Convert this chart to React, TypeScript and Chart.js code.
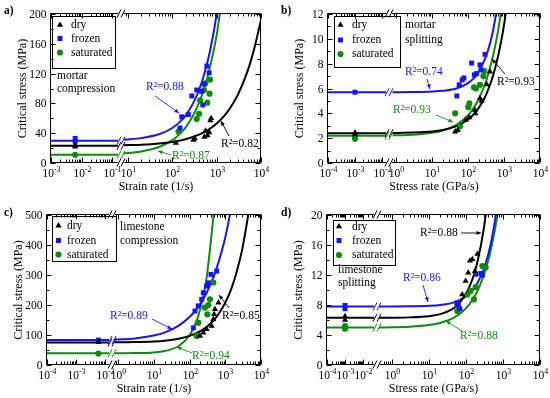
import React, { useEffect, useRef } from 'react';
import { Chart, registerables, LinearScale } from 'chart.js';

Chart.register(...registerables);

// ---------------- DATA ----------------
// Panel a) mortar compression – strain rate (1/s) vs critical stress (MPa)
const aXTicks = [-3, -2, -1, 1, 2, 3, 4];
const aYTicks = [0, 40, 80, 120, 160, 200];
const aDryX = [0.0062, 0.0062, 120, 300, 320, 530, 560, 620, 680, 720, 750];
const aDryY = [22, 24, 27, 31, 33, 35, 43, 37, 41, 57, 60];
const aFrozenX = [0.0062, 0.0062, 149, 163, 230, 275, 355, 457, 487, 520, 600, 675];
const aFrozenY = [33, 29, 47, 62, 65, 90, 98, 96, 78, 106, 130, 121];
const aSatX = [0.0062, 138, 355, 400, 424, 520, 555, 615, 690, 710];
const aSatY = [11, 42, 59, 66, 84, 98, 107, 81, 93, 112];
const aBase = [23, 30, 11]; // dry, frozen, saturated plateau
const aFitX = [8, 10, 20, 50, 100, 150, 200, 300, 400, 500, 700, 1000, 1500, 2000, 3000, 5000, 7000, 10000];
const aFitDry = [23.8, 24, 24.6, 26.2, 28.3, 30.3, 32, 35.2, 38.1, 40.9, 46, 53.1, 63.7, 73.5, 91.4, 123.6, 153, 192];
const aFitFrozen = [31.4, 31.7, 33.4, 38.5, 47, 55.5, 64, 81, 98, 115, 149, 200, 285];
const aFitSat = [12.9, 13.4, 15.5, 21.4, 30.6, 39.4, 47.8, 64.7, 80.9, 96.3, 127.6, 172, 245];

// Panel b) mortar splitting – stress rate (GPa/s) vs critical stress (MPa)
const bXTicks = [-4, -3, -2, 0, 1, 2, 3, 4];
const bYTicks = [0, 2, 4, 6, 8, 10, 12];
const bDryX = [0.001, 0.001, 44, 52, 87, 109, 156, 160, 215, 240, 330, 408];
const bDryY = [2.45, 2.3, 2.52, 2.65, 3.46, 3.67, 4.27, 4.0, 5.2, 5.0, 6.33, 7.35];
const bFrozenX = [0.001, 49, 57, 69, 77, 126, 150, 174, 215, 230, 297];
const bFrozenY = [5.7, 5.4, 6.3, 6.7, 6.85, 8.05, 7.1, 7.2, 7.9, 7.5, 8.75];
const bSatX = [0.001, 0.001, 44, 60, 102, 109, 147, 166, 215, 267, 284];
const bSatY = [2.1, 1.95, 4.0, 2.95, 4.5, 4.8, 6.1, 6.0, 6.3, 7.0, 7.4];
const bBase = [2.4, 5.7, 2.2];
const bFitX = [0.8, 1, 3, 10, 20, 50, 100, 150, 200, 300, 400, 500, 700, 1000, 1500];
const bFitDry = [2.41, 2.42, 2.45, 2.54, 2.66, 2.99, 3.5, 3.98, 4.45, 5.34, 6.22, 7.06, 8.73, 11.1, 15.0];
const bFitFrozen = [5.7, 5.7, 5.71, 5.75, 5.81, 6.02, 6.43, 6.88, 7.37, 8.42, 9.53, 10.69, 13.2];
const bFitSat = [2.23, 2.23, 2.28, 2.43, 2.62, 3.11, 3.85, 4.52, 5.17, 6.38, 7.58, 8.68, 10.8, 13.9];

// Panel c) limestone compression – strain rate (1/s)
const cXTicks = [-4, -3, -2, 0, 1, 2, 3, 4];
const cYTicks = [0, 100, 200, 300, 400, 500];
const cDryX = [0.0059, 196, 244, 302, 417, 465, 490, 516, 645];
const cDryY = [76, 97, 108, 119, 130, 152, 169, 186, 208];
const cFrozenX = [0.0059, 128, 142, 176, 219, 244, 302, 336, 398, 575];
const cFrozenY = [83, 124, 180, 197, 219, 241, 263, 274, 302, 313];
const cSatX = [0.0059, 158, 176, 270, 316, 336, 374, 465];
const cSatY = [38, 97, 141, 191, 169, 200, 219, 275];
const cBase = [75, 83.5, 39];
const cFitX = [0.8, 1, 3, 10, 20, 50, 100, 150, 200, 300, 500, 700, 1000, 1500, 2000, 3000, 5000];
const cFitDry = [75.5, 75.6, 76.4, 78.6, 81.2, 87.8, 97, 105.2, 112.8, 126.7, 151.9, 175.9, 207.5, 256.5, 302.6, 387, 539.6];
const cFitFrozen = [84.5, 85, 88.5, 98, 108, 131, 159.8, 183, 203.6, 239.7, 301.5, 355.6, 425, 528];
const cFitSat = [39.1, 39.15, 39.6, 42, 46.4, 63.3, 99, 140.8, 187, 289.7, 527];

// Panel d) limestone splitting – stress rate (GPa/s)
const dXTicks = [-4, -3, -2, 0, 1, 2, 3, 4];
const dYTicks = [0, 4, 8, 12, 16, 20];
const dDryX = [0.001, 0.001, 79, 98, 115, 128, 148, 174, 204];
const dDryY = [6.5, 6.0, 9.4, 11.2, 12.3, 13.9, 14.1, 12.5, 14.8];
const dFrozenX = [0.001, 0.001, 58, 62, 68, 182, 251, 277];
const dFrozenY = [7.95, 7.5, 8.3, 7.95, 7.5, 12.1, 12.2, 12.0];
const dSatX = [0.001, 0.001, 58, 58, 109, 134, 164, 182, 277, 340];
const dSatY = [5.2, 4.85, 7.2, 8.1, 9.4, 9.9, 8.75, 10.4, 13.2, 13.0];
const dBase = [6.3, 7.8, 5.0];
const dFitX = [0.45, 1, 3, 10, 20, 50, 100, 150, 200, 300, 400, 500, 700, 1000];
const dFitDry = [6.3, 6.31, 6.35, 6.51, 6.78, 7.71, 9.5, 11.47, 13.57, 18.04, 22.8];
const dFitFrozen = [7.8, 7.8, 7.82, 7.89, 8.0, 8.39, 9.15, 9.98, 10.87, 12.75, 14.76, 16.87, 21.3, 28.3];
const dFitSat = [5.01, 5.03, 5.1, 5.32, 5.6, 6.38, 7.57, 8.71, 9.8, 11.91, 13.95, 15.96, 19.81, 25.3];

const seriesNames = ['dry', 'frozen', 'saturated'];

// ---------------- STYLE ----------------
const FONT = '"Liberation Serif", "Times New Roman", serif';
const BLUE = '#1515f0';
const GREEN = '#128a12';
const BLACK = '#000000';
const COLORS = [BLACK, BLUE, GREEN];
const STYLES = ['triangle', 'rect', 'circle'];
const RADII = [3.6, 3.5, 3.1];
const FS = 11.5;

// ---------------- broken log scale ----------------
class BrokenLogScale extends (LinearScale as any) {
  static id = 'brokenlog';
  _segs() {
    const s = (this as any).options.segs;
    return [s[0], s[1], s[2], s[3], s[4], s[5], s[6], s[7], s[8], s[9]];
  }
  getPixelForValue(value: number) {
    const s = this._segs();
    const Lg = Math.log10(value);
    const split = (s[2] + s[4]) / 2;
    let px;
    if (Lg < split) px = s[1] + ((Lg - s[0]) / (s[2] - s[0])) * (s[3] - s[1]);
    else px = s[5] + ((Lg - s[4]) / (s[6] - s[4])) * (s[7] - s[5]);
    const self = this as any;
    return self.left + ((px - s[8]) / (s[9] - s[8])) * self.width;
  }
  getValueForPixel(pixel: number) {
    const s = this._segs();
    const self = this as any;
    const px = s[8] + ((pixel - self.left) / self.width) * (s[9] - s[8]);
    const mid = (s[3] + s[5]) / 2;
    let Lg;
    if (px < mid) Lg = s[0] + ((px - s[1]) / (s[3] - s[1])) * (s[2] - s[0]);
    else Lg = s[4] + ((px - s[5]) / (s[7] - s[5])) * (s[6] - s[4]);
    return Math.pow(10, Lg);
  }
}
Chart.register(BrokenLogScale as any);

// ---------------- PANELS ----------------
const PANELS: any[] = [
  {
    key: 'a', label: 'a)', labelPos: [4, 14],
    area: [51, 14, 261, 163], segs: [-3, 51, -1, 112, 1, 128, 4, 261], brk: 121, xMin: 1e-3,
    yMax: 200, xTicks: aXTicks, yTicks: aYTicks,
    xTitle: 'Strain rate (1/s)', yTitle: 'Critical stress (MPa)',
    pts: [[aDryX, aDryY], [aFrozenX, aFrozenY], [aSatX, aSatY]],
    base: aBase, fitX: aFitX, fits: [aFitDry, aFitFrozen, aFitSat],
    legend: { box: [52, 16, 115, 68], mx: 60, tx: 71, ys: [25, 38.5, 52.5] },
    notes: [['mortar', 57, 76], ['compression', 57, 89]],
    r2: [
      ['R\u00b2=0.88', BLUE, 146, 87, [155, 96, 179, 113]],
      ['R\u00b2=0.87', GREEN, 172, 156, [171, 155, 158, 151]],
      ['R\u00b2=0.82', BLACK, 221, 143.5, [229, 136, 221, 121]],
    ],
  },
  {
    key: 'b', label: 'b)', labelPos: [281, 14],
    area: [328, 14, 540, 163], segs: [-4, 328, -2, 382, 0, 396, 4, 540], brk: 389, xMin: 1e-4,
    yMax: 12, xTicks: bXTicks, yTicks: bYTicks,
    xTitle: 'Stress rate (GPa/s)', yTitle: 'Critical stress (MPa)',
    pts: [[bDryX, bDryY], [bFrozenX, bFrozenY], [bSatX, bSatY]],
    base: bBase, fitX: bFitX, fits: [bFitDry, bFitFrozen, bFitSat],
    legend: { box: [334, 16, 400, 67], mx: 340.5, tx: 352, ys: [25, 40, 54] },
    notes: [['mortar', 405, 25], ['splitting', 405, 40]],
    r2: [
      ['R\u00b2=0.74', BLUE, 405, 72, [427, 79, 430, 89]],
      ['R\u00b2=0.93', GREEN, 393, 110, [436, 115, 453, 122]],
      ['R\u00b2=0.93', BLACK, 497, 82, [505, 74, 492, 59]],
    ],
  },
  {
    key: 'c', label: 'c)', labelPos: [4, 216],
    area: [47, 215, 261, 365], segs: [-4, 47, -2, 105, 0, 118, 4, 261], brk: 112, xMin: 1e-4,
    yMax: 500, xTicks: cXTicks, yTicks: cYTicks,
    xTitle: 'Strain rate (1/s)', yTitle: 'Critical stress (MPa)',
    pts: [[cDryX, cDryY], [cFrozenX, cFrozenY], [cSatX, cSatY]],
    base: cBase, fitX: cFitX, fits: [cFitDry, cFitFrozen, cFitSat],
    legend: { box: [52, 216, 116, 261], mx: 58.5, tx: 67, ys: [225.7, 240.5, 254.5] },
    notes: [['limestone', 120, 227], ['compression', 120, 241]],
    r2: [
      ['R\u00b2=0.89', BLUE, 110, 316, [152, 319, 172, 329]],
      ['R\u00b2=0.94', GREEN, 192, 356, [192, 353, 177, 347]],
      ['R\u00b2=0.85', BLACK, 222, 316, [229, 308, 219, 295]],
    ],
  },
  {
    key: 'd', label: 'd)', labelPos: [281, 216],
    area: [327, 215, 540, 365], segs: [-4, 327, -2, 363, 0, 392, 4, 540], brk: 377, xMin: 1e-4,
    yMax: 20, xTicks: dXTicks, yTicks: dYTicks,
    xTitle: 'Stress rate (GPa/s)', yTitle: 'Critical stress (MPa)',
    pts: [[dDryX, dDryY], [dFrozenX, dFrozenY], [dSatX, dSatY]],
    base: dBase, fitX: dFitX, fits: [dFitDry, dFitFrozen, dFitSat],
    legend: { box: [333, 220, 395, 265], mx: 339, tx: 352, ys: [226.5, 240.5, 255] },
    notes: [['limestone', 338, 270], ['splitting', 338, 283]],
    r2: [
      ['R\u00b2=0.86', BLUE, 403, 278, [423, 285, 428, 302]],
      ['R\u00b2=0.88', GREEN, 460, 336, [462, 331, 446, 321]],
      ['R\u00b2=0.88', BLACK, 420, 233, [461, 233, 481, 233]],
    ],
  },
];

function drawMarker(ctx: CanvasRenderingContext2D, style: string, x: number, y: number, r: number, color: string) {
  ctx.fillStyle = color;
  ctx.beginPath();
  if (style === 'triangle') {
    ctx.moveTo(x, y - r);
    ctx.lineTo(x + r * 0.866, y + r * 0.5);
    ctx.lineTo(x - r * 0.866, y + r * 0.5);
    ctx.closePath();
  } else if (style === 'rect') {
    const s = r * Math.SQRT1_2;
    ctx.rect(x - s, y - s, 2 * s, 2 * s);
  } else {
    ctx.arc(x, y, r, 0, Math.PI * 2);
  }
  ctx.fill();
}

function decoPlugin(P: any) {
  return {
    id: 'deco_' + P.key,
    afterDraw(chart: any) {
      const ctx: CanvasRenderingContext2D = chart.ctx;
      const ca = chart.chartArea;
      const xs = chart.scales.x;
      const ys = chart.scales.y;
      const L = ca.left, R = ca.right, T = ca.top, B = ca.bottom;
      const g1 = P.brk - 3, g2 = P.brk + 3;
      const cr = (v: number) => Math.round(v) + 0.5;
      const seg = (x1: number, y1: number, x2: number, y2: number) => {
        ctx.beginPath(); ctx.moveTo(x1, y1); ctx.lineTo(x2, y2); ctx.stroke();
      };
      const slashes = (x: number, y: number, color: string) => {
        ctx.strokeStyle = color; ctx.lineWidth = 1;
        for (const dx of [-2, 2]) seg(x + dx - 2, y + 4, x + dx + 2, y - 4);
      };
      ctx.save();
      ctx.strokeStyle = '#000'; ctx.lineWidth = 1;
      const l = cr(L) - 1, r = cr(R) - 1, t = cr(T) - 1, b = cr(B) - 1;
      seg(l, t, l, b); seg(r, t, r, b);
      seg(l, t, g1, t); seg(g2, t, r, t);
      seg(l, b, g1, b); seg(g2, b, r, b);
      slashes(P.brk, t, '#000');
      slashes(P.brk, b, '#000');

      // y ticks
      ctx.fillStyle = '#000';
      ctx.font = `${FS}px ${FONT}`;
      ctx.textAlign = 'right'; ctx.textBaseline = 'middle';
      const yt = P.yTicks;
      for (let i = 0; i < yt.length; i++) {
        const py = cr(ys.getPixelForValue(yt[i]));
        ctx.strokeStyle = '#000';
        seg(l, py, l + 5, py); seg(r, py, r - 5, py);
        ctx.fillText(String(yt[i]), l - 4, py);
        if (i < yt.length - 1) {
          const pm = cr(ys.getPixelForValue((yt[i] + yt[i + 1]) / 2));
          seg(l, pm, l + 3, pm); seg(r, pm, r - 3, pm);
        }
      }

      // x ticks
      const S = P.segs;
      const split = (S[2] + S[4]) / 2;
      const xt = P.xTicks;
      for (let e = xt[0] - 1; e <= xt[xt.length - 1]; e++) {
        for (let k = 2; k <= 9; k++) {
          const v = k * Math.pow(10, e);
          const lg = Math.log10(v);
          const px = xs.getPixelForValue(v);
          const ok = lg < split ? (px > l + 1 && px < g1 - 1) : (px > g2 + 1 && px < r - 1);
          if (!ok) continue;
          const p = cr(px);
          seg(p, b, p, b - 3); seg(p, t, p, t + 3);
        }
      }
      ctx.textBaseline = 'alphabetic'; ctx.textAlign = 'left';
      for (const e of xt) {
        const p = cr(xs.getPixelForValue(Math.pow(10, e)));
        ctx.strokeStyle = '#000';
        seg(p, b, p, b - 5); seg(p, t, p, t + 5);
        ctx.font = `${FS}px ${FONT}`;
        const w1 = ctx.measureText('10').width;
        ctx.font = `${FS * 0.68}px ${FONT}`;
        const ex = String(e);
        const w2 = ctx.measureText(ex).width;
        const x0 = p - (w1 + w2) / 2;
        ctx.font = `${FS}px ${FONT}`;
        ctx.fillText('10', x0, B + 14);
        ctx.font = `${FS * 0.68}px ${FONT}`;
        ctx.fillText(ex, x0 + w1, B + 9);
      }

      // axis titles
      ctx.font = `${FS + 0.5}px ${FONT}`;
      ctx.textAlign = 'center'; ctx.textBaseline = 'alphabetic';
      ctx.fillText(P.xTitle, (L + R) / 2, B + 27);
      ctx.save();
      ctx.translate(L - 28, (T + B) / 2);
      ctx.rotate(-Math.PI / 2);
      ctx.textBaseline = 'middle';
      ctx.font = `${FS + 0.5}px ${FONT}`;
      ctx.fillText(P.yTitle, 0, 0);
      ctx.restore();

      // break marks on the plateau curves
      chart.data.datasets.forEach((ds: any) => {
        if (!ds.brkMark) return;
        const last = ds.data[ds.data.length - 1];
        slashes(P.brk, ys.getPixelForValue(last.y), ds.borderColor);
      });

      // legend
      const lg = P.legend;
      ctx.strokeStyle = '#000'; ctx.lineWidth = 1;
      ctx.strokeRect(cr(lg.box[0]), cr(lg.box[1]), lg.box[2] - lg.box[0], lg.box[3] - lg.box[1]);
      ctx.font = `${FS}px ${FONT}`;
      ctx.textAlign = 'left'; ctx.textBaseline = 'middle';
      for (let i = 0; i < 3; i++) {
        drawMarker(ctx, STYLES[i], lg.mx, lg.ys[i], RADII[i], COLORS[i]);
        ctx.fillStyle = '#000';
        ctx.fillText(seriesNames[i], lg.tx, lg.ys[i]);
      }

      // notes
      ctx.fillStyle = '#000';
      for (const n of P.notes) ctx.fillText(n[0], n[1], n[2]);

      // R² labels with arrows
      for (const a of P.r2) {
        const [txt, col, tx, ty, ar] = a;
        ctx.fillStyle = col; ctx.strokeStyle = col;
        ctx.font = `${FS}px ${FONT}`;
        ctx.textAlign = 'left'; ctx.textBaseline = 'middle';
        ctx.fillText(txt, tx, ty);
        const [x1, y1, x2, y2] = ar;
        ctx.lineWidth = 0.9;
        seg(x1, y1, x2, y2);
        const ang = Math.atan2(y2 - y1, x2 - x1);
        const hl = 4.5, hw = 2;
        ctx.beginPath();
        ctx.moveTo(x2, y2);
        ctx.lineTo(x2 - hl * Math.cos(ang) + hw * Math.sin(ang), y2 - hl * Math.sin(ang) - hw * Math.cos(ang));
        ctx.lineTo(x2 - hl * Math.cos(ang) - hw * Math.sin(ang), y2 - hl * Math.sin(ang) + hw * Math.cos(ang));
        ctx.closePath();
        ctx.fill();
      }

      // panel label
      ctx.fillStyle = '#000';
      ctx.font = `bold ${FS}px ${FONT}`;
      ctx.textAlign = 'left'; ctx.textBaseline = 'alphabetic';
      ctx.fillText(P.label, P.labelPos[0], P.labelPos[1]);
      ctx.restore();
    },
  };
}

function buildConfig(P: any) {
  const S = P.segs;
  const leftEnd = Math.pow(10, S[0] + ((P.brk - 3 - S[1]) / (S[3] - S[1])) * (S[2] - S[0]));
  const xy = (xs: number[], ysv: number[]) => ysv.map((v, i) => ({ x: xs[i], y: v }));
  const datasets: any[] = [];
  for (let i = 0; i < 3; i++) {
    datasets.push({
      label: seriesNames[i],
      data: xy(P.pts[i][0], P.pts[i][1]),
      showLine: false,
      pointStyle: STYLES[i],
      pointRadius: RADII[i],
      pointBackgroundColor: COLORS[i],
      pointBorderColor: COLORS[i],
      pointBorderWidth: 0,
    });
  }
  for (let i = 0; i < 3; i++) {
    datasets.push({
      label: seriesNames[i] + ' fit',
      data: xy(P.fitX, P.fits[i]),
      showLine: true,
      borderColor: COLORS[i],
      borderWidth: 2,
      pointRadius: 0,
      cubicInterpolationMode: 'monotone',
      fill: false,
    });
    datasets.push({
      label: seriesNames[i] + ' plateau',
      data: [{ x: P.xMin, y: P.base[i] }, { x: leftEnd, y: P.base[i] }],
      showLine: true,
      borderColor: COLORS[i],
      borderWidth: 2,
      pointRadius: 0,
      fill: false,
      brkMark: true,
    });
  }
  return {
    type: 'scatter',
    data: { datasets },
    options: {
      responsive: false,
      animation: false,
      events: [],
      layout: { padding: { left: P.area[0], top: P.area[1], right: 550 - P.area[2], bottom: 398 - P.area[3] } },
      plugins: { legend: { display: false }, tooltip: { enabled: false } },
      elements: { line: { capBezierPoints: false } },
      scales: {
        x: { type: 'brokenlog', min: P.xMin, max: 1e4, display: false, segs: [...S, P.area[0], P.area[2]] },
        y: { type: 'linear', min: 0, max: P.yMax, display: false },
      },
    },
    plugins: [decoPlugin(P)],
  } as any;
}

export default function App() {
  const r0 = useRef<HTMLCanvasElement>(null);
  const r1 = useRef<HTMLCanvasElement>(null);
  const r2 = useRef<HTMLCanvasElement>(null);
  const r3 = useRef<HTMLCanvasElement>(null);
  const refs = [r0, r1, r2, r3];
  useEffect(() => {
    const charts = PANELS.map((P, i) => new Chart(refs[i].current as any, buildConfig(P)));
    return () => charts.forEach((c) => c.destroy());
  }, []);
  return (
    <div style={{ position: 'fixed', left: 0, top: 0, width: 550, height: 398, background: '#fff' }}>
      {PANELS.map((P, i) => (
        <canvas
          key={P.key}
          ref={refs[i]}
          width={550}
          height={398}
          style={{ position: 'absolute', left: 0, top: 0, width: 550, height: 398 }}
        />
      ))}
    </div>
  );
}
